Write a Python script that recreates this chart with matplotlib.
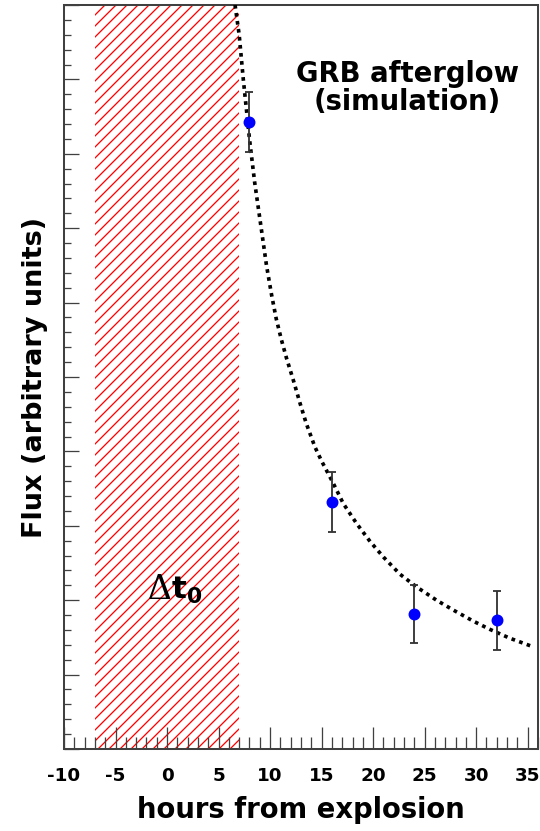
import matplotlib as mpl
mpl.use('Agg')

import matplotlib.pyplot as plt
from matplotlib.ticker import MultipleLocator, NullFormatter

# measured points (hours from explosion, flux)
obs_hours = [8, 16, 24, 32]
obs_flux = [8.43, 3.32, 1.82, 1.73]
obs_err = [0.40, 0.40, 0.39, 0.40]

# decay curve
curve_hours = [6.6, 7.0, 7.4, 7.7, 8.0, 8.5, 9.2, 9.65, 10.15, 10.6, 11.1,
               11.6, 12.25, 12.9, 13.5, 14.35, 15.0, 16.1, 17.1, 18.4, 19.7,
               21.0, 22.6, 24.2, 26.15, 27.75, 29.7, 31.3, 33.25, 35.4]
curve_flux = [10.0, 9.6, 9.0, 8.6, 8.2, 7.62, 6.94, 6.5, 6.1, 5.78, 5.5,
              5.25, 4.96, 4.65, 4.38, 4.06, 3.87, 3.58, 3.3, 3.03, 2.79,
              2.58, 2.35, 2.18, 2.0, 1.87, 1.72, 1.61, 1.49, 1.38]

# dead time window before the first observation
window = (-7, 7)

DPI = 132
AXIS_COLOR = '#404040'

plt.rcParams['font.family'] = ['DejaVu Sans']
plt.rcParams['font.weight'] = 'bold'
plt.rcParams['mathtext.fontset'] = 'dejavusans'
plt.rcParams['axes.unicode_minus'] = False
plt.rcParams['hatch.linewidth'] = 0.7

fig = plt.figure(figsize=(540 / DPI, 831 / DPI), dpi=DPI)
ax = fig.add_axes([64 / 540, 1 - 749 / 831, 474 / 540, 744 / 831])

ax.axvspan(window[0], window[1], facecolor='none', edgecolor='red',
           hatch='////', linewidth=0)

ax.plot(curve_hours, curve_flux, color='black', linewidth=2.0,
        linestyle=(0, (1, 1.2)), zorder=3)

ax.errorbar(obs_hours, obs_flux, yerr=obs_err, fmt='o', color='blue',
            markersize=5.5, ecolor='#333333', elinewidth=1.0, capsize=2.2,
            capthick=1.0, zorder=4)

ax.set_xlim(-10, 36)
ax.set_ylim(0, 10)

ax.xaxis.set_major_locator(MultipleLocator(5))
ax.xaxis.set_minor_locator(MultipleLocator(1))
ax.yaxis.set_major_locator(MultipleLocator(1))
ax.yaxis.set_minor_locator(MultipleLocator(0.2))
ax.yaxis.set_major_formatter(NullFormatter())

ax.tick_params(axis='x', which='major', direction='in', length=12,
               width=0.7, color=AXIS_COLOR, pad=10, labelsize=10)
ax.tick_params(axis='x', which='minor', direction='in', length=6.5,
               width=0.7, color=AXIS_COLOR)
ax.tick_params(axis='y', which='major', direction='in', length=8.2,
               width=0.7, color=AXIS_COLOR)
ax.tick_params(axis='y', which='minor', direction='in', length=3.8,
               width=0.7, color=AXIS_COLOR)

for spine in ax.spines.values():
    spine.set_color(AXIS_COLOR)
    spine.set_linewidth(1.1)

ax.set_xlabel('hours from explosion', fontsize=15, fontweight='bold',
              labelpad=6)
fig.text(35 / 540, 1 - 377 / 831, 'Flux (arbitrary units)', fontsize=14.8,
         fontweight='bold', rotation=90, ha='center', va='center')

ax.text(0.725, 0.888, 'GRB afterglow\n(simulation)', transform=ax.transAxes,
        fontsize=15, fontweight='bold', ha='center', va='center',
        linespacing=1.0)

# delta t0 label: thin serif delta followed by bold t with subscript
ax.text(0.4, 2.02, '\u0394', family='Liberation Serif', fontweight='normal',
        fontsize=20, ha='right', va='baseline')
ax.text(0.4, 2.02, r'$\mathbf{t_0}$', fontsize=17, ha='left',
        va='baseline')

fig.savefig('out.png', dpi=DPI)
plt.close()
